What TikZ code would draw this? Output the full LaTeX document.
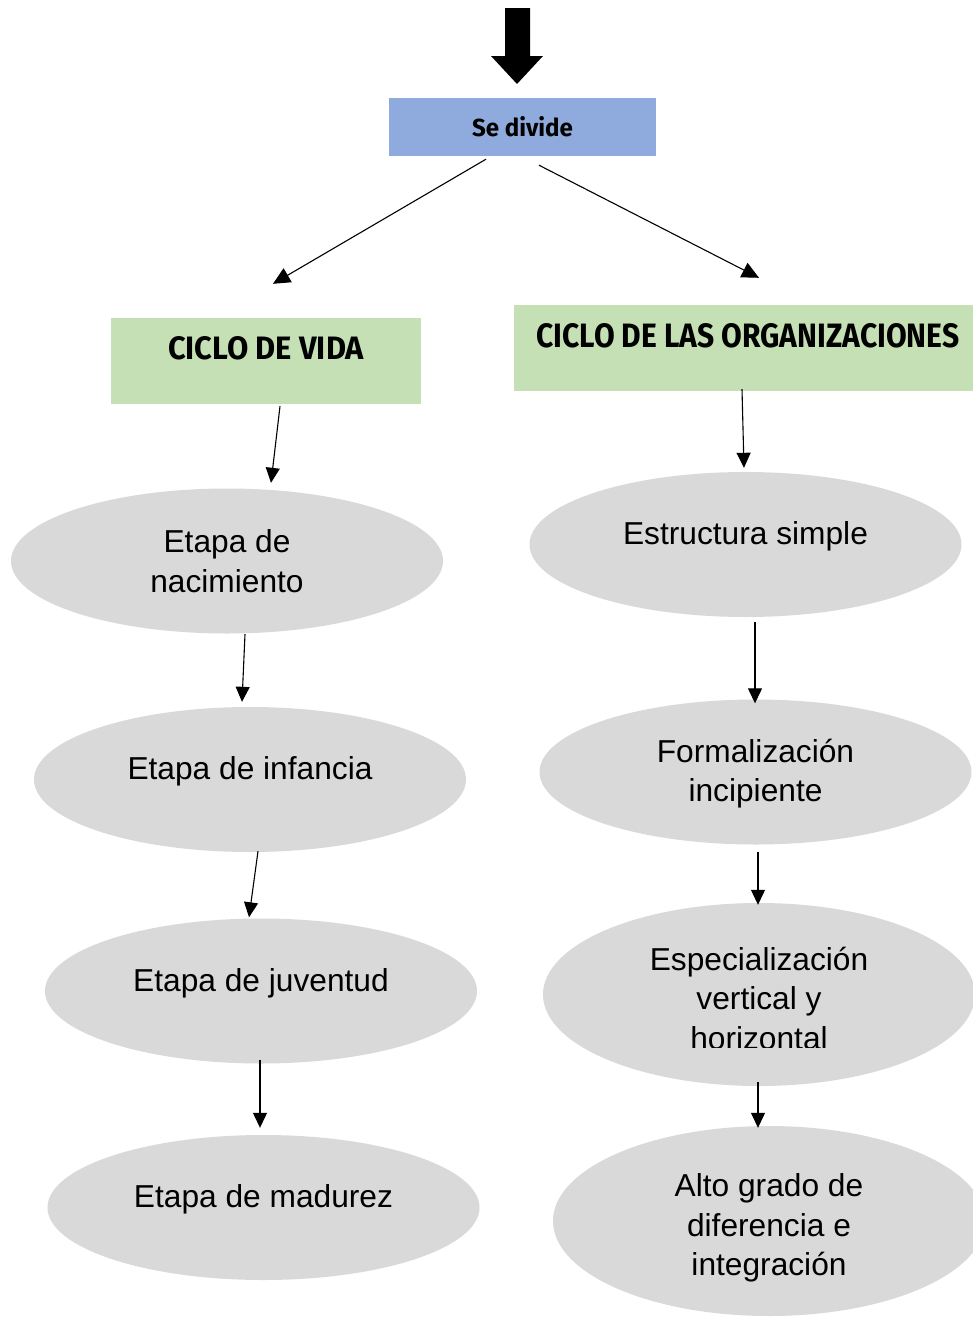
\documentclass[tikz,border=0pt]{standalone}
\usepackage{fontspec}
\setmainfont{Liberation Sans}
\newfontfamily\handfont{Fira Sans}
\usetikzlibrary{arrows.meta,shapes.geometric,calc}
\definecolor{hdrblue}{HTML}{8FAADC}
\definecolor{hdrgreen}{HTML}{C5E0B4}
\definecolor{ellgray}{HTML}{D9D9D9}
\newcommand{\raiseup}[2]{\raisebox{#1}[\height][\depth]{#2}}
\newcommand{\hdrtext}[3]{\resizebox{#1}{#2}{\handfont\bfseries #3}}
\begin{document}
\begin{tikzpicture}[x=1pt,y=-1pt,
  hdrbox/.style={rectangle, draw=none, inner sep=0pt, align=center},
  ellbox/.style={ellipse, fill=ellgray, draw=none, minimum width=432pt,
     minimum height=145pt, inner sep=0pt, align=center,
     font=\fontsize{31.7}{39.5}\selectfont},
  txtbox/.style={inner sep=0pt, align=center, font=\fontsize{31.7}{39.5}\selectfont},
  arr/.style={-{Triangle[length=15pt,width=14pt]}, line width=1.1pt},
  diagarr/.style={-{Triangle[length=17pt,width=16pt]}, line width=1.1pt}
]
\fill[white] (0,0) rectangle (972,1317);
\useasboundingbox (0,0) rectangle (972,1317);

% big arrow at top
\fill[black] (505,8) -- (530,8) -- (530,56) -- (543,56) -- (517,84)
  -- (491,56) -- (505,56) -- cycle;

% header boxes
\node[hdrbox, fill=hdrblue, minimum width=267pt, minimum height=58pt]
  (sd) at (522.5,127) {\hdrtext{101pt}{20pt}{Se divide}};
\node[hdrbox, fill=hdrgreen, minimum width=310pt, minimum height=86pt]
  (cv) at (266,361) {\raiseup{12.5pt}{\hdrtext{196pt}{23pt}{CICLO DE VIDA}}};
\node[hdrbox, fill=hdrgreen, minimum width=468pt, minimum height=86pt]
  (co) at (748,348) {\raiseup{12pt}{\hdrtext{423pt}{24pt}{CICLO DE LAS ORGANIZACIONES}}};

% left column
\node[ellbox] (L1) at (227,561) {Etapa de\\nacimiento};
\node[ellbox] (L2) at (250,779.5) {\raiseup{8pt}{Etapa de infancia}};
\node[ellbox] (L3) at (261,991) {\raiseup{8pt}{Etapa de juventud}};
\node[ellbox] (L4) at (263.5,1207.5) {\raiseup{8pt}{Etapa de madurez}};

% right column
\node[ellbox] (R1) at (745.5,544.5) {\raiseup{8pt}{Estructura simple}};
\node[ellbox] (R2) at (755.5,772) {\raiseup{-2pt}{\begin{tabular}{@{}c@{}}Formalización\\incipiente\end{tabular}}};
\node[ellbox, minimum height=183pt] (R3) at (759,994.5) {};
\begin{scope}
  \clip (530,900) rectangle (980,1047);
  \node[txtbox] (R3t) at (759,998) {Especialización\\vertical y\\horizontal};
\end{scope}
\node[ellbox, minimum height=190pt] (R4) at (769,1221) {};
\node[txtbox] (R4t) at (769,1228) {Alto grado de\\diferencia e\\integración};

% connectors
\draw[diagarr] ([shift={(-36.5,3)}]sd.south) -- ([shift={(7,-34)}]cv.north);
\draw[diagarr] ([shift={(16.5,9)}]sd.south) -- ([shift={(11,-27)}]co.north);

\draw[arr] ([shift={(14,2)}]cv.south) -- ([shift={(44,-5.5)}]L1.north);
\draw[arr] ([shift={(18,0.5)}]L1.south) -- ([shift={(-8,-5)}]L2.north);
\draw[arr] ([shift={(8,-1)}]L2.south) -- ([shift={(-12,-1)}]L3.north);
\draw[arr] ([shift={(-1,-4)}]L3.south) -- ([shift={(-3.5,-7)}]L4.north);

\draw[arr] ([shift={(-6,-2)}]co.south) -- ([shift={(-1.5,-4)}]R1.north);
\draw[arr] ([shift={(9.5,5)}]R1.south) -- ([shift={(-0.5,4)}]R2.north);
\draw[arr] ([shift={(2.5,7)}]R2.south) -- ([shift={(-1,2)}]R3.north);
\draw[arr] ([shift={(-1,-4)}]R3.south) -- ([shift={(-11,2)}]R4.north);
\end{tikzpicture}
\end{document}
